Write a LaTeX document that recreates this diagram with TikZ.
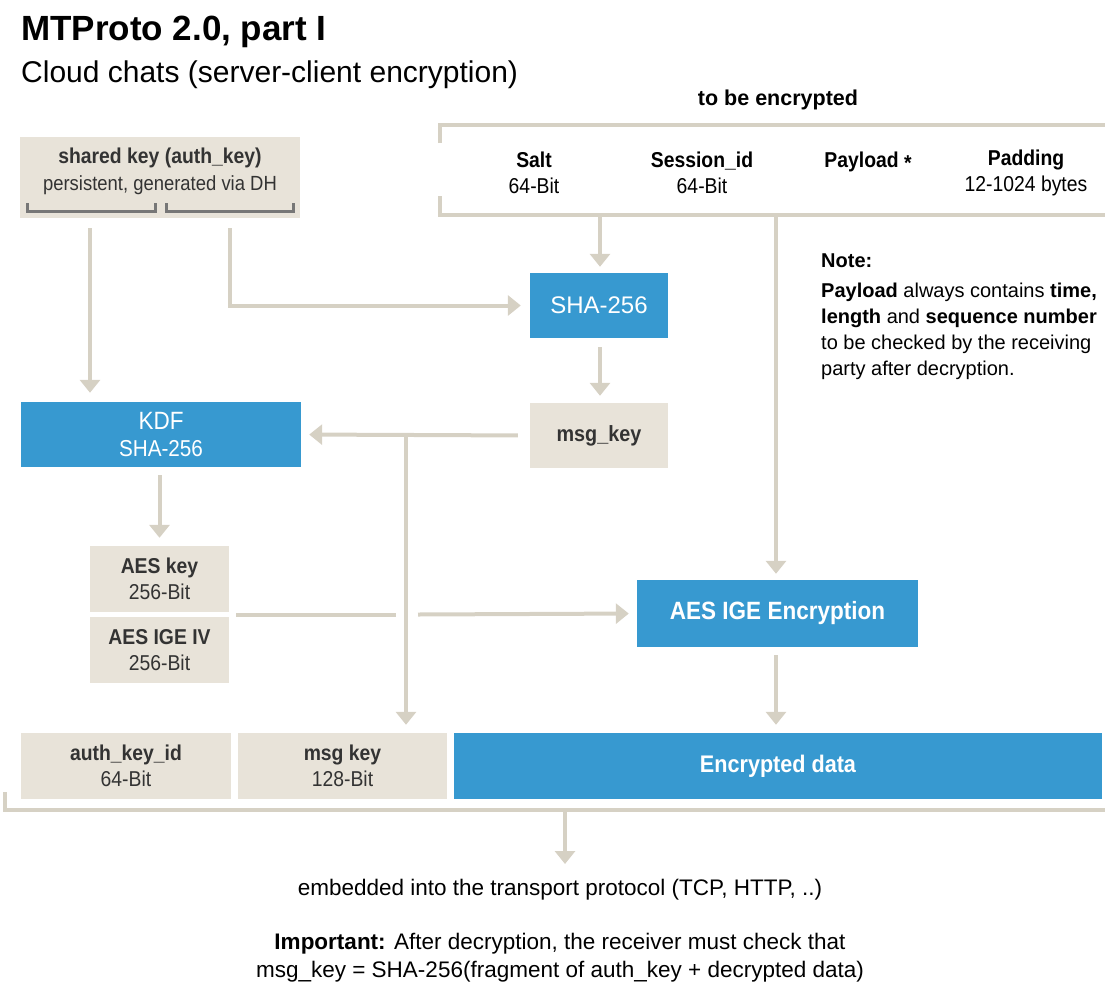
\documentclass[tikz,border=0pt]{standalone}
\usepackage{fontspec}
\setmainfont{Liberation Sans}
\newfontfamily\cond[FakeStretch=0.9]{Liberation Sans}
\usetikzlibrary{arrows.meta}
\definecolor{boxc}{HTML}{E8E3D9}
\definecolor{bluec}{HTML}{3799D0}
\definecolor{linec}{HTML}{D6D1C4}
\definecolor{brk}{HTML}{777777}
\definecolor{txt}{HTML}{333333}
\tikzset{
  x=1pt, y=-1pt,
  every node/.style={text=txt, inner sep=0pt},
  kbox/.style={fill=boxc, align=center, font=\cond\fontsize{21.5}{25.5}\selectfont},
  bbox/.style={fill=bluec, text=white, align=center, font=\cond\fontsize{24}{28}\selectfont},
  conn/.style={draw=linec, line width=4pt},
  arr/.style={conn, -{Triangle[width=20pt,length=13pt]}},
  frameline/.style={draw=linec, line width=4pt},
  bracket/.style={draw=brk, line width=3pt},
}
\begin{document}
\begin{tikzpicture}
\useasboundingbox (0,0) rectangle (1105,988);

% headings
\node[anchor=base west, font=\bfseries\fontsize{35}{40}\selectfont, text=black] (title) at (21,40) {MTProto 2.0, part I};
\node[anchor=base west, font=\fontsize{30}{34}\selectfont, text=black] (sub) at (21,82) {Cloud chats (server-client encryption)};
\node[anchor=base, font=\bfseries\fontsize{21.5}{24}\selectfont, text=black] (tbe) at (778,105) {to be encrypted};

% plaintext frame
\draw[frameline] (440,143) -- (440,125) -- (1105,125);
\draw[frameline] (440,196) -- (440,215) -- (1105,215);
\coordinate (fa) at (600,215);
\coordinate (fb) at (776,215);

\begin{scope}[every node/.append style={font=\cond\fontsize{21.5}{26}\selectfont, align=center, text=black}]
\node (salt) at (534,173) {\textbf{Salt}\\64-Bit};
\node (sess) at (702,173) {\textbf{Session\_id}\\64-Bit};
\node[anchor=base] (pay) at (868,167) {\textbf{Payload} \raisebox{-0.35ex}{\textbf{*}}};
\node (pad) at (1026,173) {\textbf{Padding}\\12-1024 bytes};
\end{scope}

% shared key
\node[kbox, minimum width=280pt, minimum height=81pt] (shared) at (160,177.5) {};
\node[font=\cond\bfseries\fontsize{21.5}{26}\selectfont] (sk1) at (160,158) {shared key (auth\_key)};
\node[font=\cond\fontsize{20.5}{26}\selectfont] (sk2) at (160,185) {persistent, generated via DH};
\draw[bracket] (27,203) -- (27,211) -- (155,211) -- (155,203);
\draw[bracket] (166,203) -- (166,211) -- (293,211) -- (293,203);
\coordinate (c90) at (90,218);
\coordinate (c230) at (230,218);

% process boxes
\node[bbox, minimum width=138pt, minimum height=65pt, font=\fontsize{24}{30}\selectfont] (sha) at (599,305.5) {SHA-256};
\node[kbox, minimum width=138pt, minimum height=65pt, font=\cond\bfseries\fontsize{22}{26}\selectfont] (msgk) at (599,435.5) {msg\_key};
\node[bbox, minimum width=280pt, minimum height=65pt, font=\cond\fontsize{23}{27}\selectfont] (kdf) at (161,434.5) {{\fontsize{25}{27}\selectfont KDF}\\SHA-256};
\node[kbox, minimum width=139pt, minimum height=66pt] (aeskey) at (159.5,579) {\textbf{AES key}\\256-Bit};
\node[kbox, minimum width=139pt, minimum height=66pt] (aesiv) at (159.5,650) {\textbf{AES IGE IV}\\256-Bit};
\node[bbox, minimum width=281pt, minimum height=67pt, font=\cond\bfseries\fontsize{25}{28}\selectfont] (aesenc) at (777.5,613.5) {AES IGE Encryption};

% packet
\node[kbox, minimum width=210pt, minimum height=66pt] (authid) at (126,766) {\textbf{auth\_key\_id}\\64-Bit};
\node[kbox, minimum width=209pt, minimum height=66pt] (msgkey2) at (342.5,766) {\textbf{msg key}\\128-Bit};
\node[bbox, minimum width=648pt, minimum height=66pt, font=\cond\bfseries\fontsize{24}{28}\selectfont] (enc) at (778,766) {Encrypted data};
\draw[frameline] (5,792) -- (5,810) -- (1105,810);
\coordinate (pk) at (565,810);
\coordinate (pkend) at (565,864);

% notes
\node[anchor=north west, align=left, font=\fontsize{20}{26}\selectfont, text=black] (note) at (821,254)
  {\textbf{Note:}\\[4pt]
   \textbf{Payload} always contains \textbf{time,}\\
   \textbf{length} and \textbf{sequence number}\\
   to be checked by the receiving\\
   party after decryption.};
\node[anchor=base, font=\fontsize{22.5}{27}\selectfont, text=black] (emb) at (560,895) {embedded into the transport protocol (TCP, HTTP, ..)};
\node[anchor=base, font=\fontsize{22.5}{27}\selectfont, text=black] (imp1) at (560,949)
  {\textbf{Important:} After decryption, the receiver must check that};
\node[anchor=base, font=\fontsize{22.5}{27}\selectfont, text=black] (imp2) at (560,977)
  {msg\_key = SHA-256(fragment of auth\_key + decrypted data)};

% connectors
\draw[arr, shorten <=10pt, shorten >=9pt] (c90) -- (kdf.north -| c90);
\draw[arr, shorten <=10pt, shorten >=9pt] (c230) |- (sha.west);
\draw[arr, shorten <=2pt, shorten >=6pt] (fa) -- (sha.north -| fa);
\draw[arr, shorten <=2pt, shorten >=6pt] (fb) -- (aesenc.north -| fb);
\draw[arr, shorten <=9pt, shorten >=7pt] (sha.south -| fa) -- (msgk.north -| fa);
\coordinate (jn) at (406,435.5);
\draw[arr, shorten <=12pt, shorten >=8pt] (msgk.west) -- (kdf.east);
\draw[arr, shorten >=8pt] (jn) -- (msgkey2.north -| jn);
\draw[arr, shorten <=8pt, shorten >=8pt] (kdf.south -| aeskey) -- (aeskey.north);
\coordinate (kv) at (229,614.5);
\draw[conn, shorten <=7pt] (kv) -- (396,614.5);
\draw[arr, shorten >=8pt] (418,614.5) -- (aesenc.west);
\draw[arr, shorten <=8pt, shorten >=8pt] (aesenc.south -| fb) -- (enc.north -| fb);
\draw[arr, shorten <=2pt] (pk) -- (pkend);
\end{tikzpicture}
\end{document}
